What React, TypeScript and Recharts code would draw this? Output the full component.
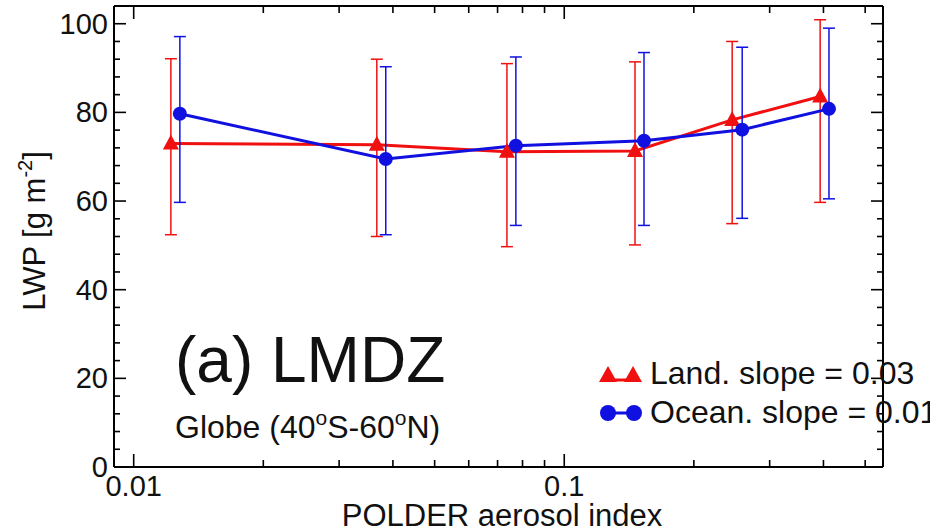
import { ComposedChart, Line, XAxis, YAxis, ErrorBar, Legend } from 'recharts';

// values (log x axis)
const landX = [0.0122, 0.0367, 0.0736, 0.146, 0.2455, 0.393];
const landY = [73, 72.7, 71.1, 71.3, 78.3, 83.6];
const landLo = [52.4, 52.0, 49.7, 50.1, 54.9, 59.7];
const landHi = [92.1, 92.0, 91.0, 91.4, 96.0, 100.9];

const oceanX = [0.0128, 0.0385, 0.0772, 0.1532, 0.259, 0.412];
const oceanY = [79.7, 69.5, 72.5, 73.6, 76.1, 80.8];
const oceanLo = [59.7, 52.4, 54.5, 54.5, 56.1, 60.5];
const oceanHi = [97.1, 90.3, 92.5, 93.5, 94.7, 99.0];

const xTicks = [0.01, 0.02, 0.03, 0.04, 0.05, 0.06, 0.07, 0.08, 0.09, 0.1, 0.2, 0.3, 0.4, 0.5];
const xLabels = [0.01, 0.1];
const yTicks = [0, 4, 8, 12, 16, 20, 24, 28, 32, 36, 40, 44, 48, 52, 56, 60, 64, 68, 72, 76, 80, 84, 88, 92, 96, 100];
const yLabels = [0, 20, 40, 60, 80, 100];

const RED = '#f01010';
const BLUE = '#1010e0';
const FONT = '"Liberation Sans", Arial, Helvetica, sans-serif';

const landData = landX.map((x, i) => ({ x, y: landY[i], err: [landY[i] - landLo[i], landHi[i] - landY[i]] }));
const oceanData = oceanX.map((x, i) => ({ x, y: oceanY[i], err: [oceanY[i] - oceanLo[i], oceanHi[i] - oceanY[i]] }));

const BottomTick = (p: any) => {
  const v = p.payload.value;
  const major = xLabels.includes(v);
  return (
    <g>
      <line x1={p.x} x2={p.x} y1={p.y} y2={p.y - (major ? 13 : 7)} stroke="#000" strokeWidth={1.6} />
      {major && (
        <text x={p.x} y={p.y + 29} textAnchor="middle" fontSize={29} fontFamily={FONT} fill="#111">{v}</text>
      )}
    </g>
  );
};

const TopTick = (p: any) => {
  const major = xLabels.includes(p.payload.value);
  return <line x1={p.x} x2={p.x} y1={p.y} y2={p.y + (major ? 13 : 7)} stroke="#000" strokeWidth={1.6} />;
};

const LeftTick = (p: any) => {
  const v = p.payload.value;
  const major = yLabels.includes(v);
  return (
    <g>
      <line x1={p.x} x2={p.x + (major ? 12 : 6)} y1={p.y} y2={p.y} stroke="#000" strokeWidth={1.6} />
      {major && (
        <text x={p.x - 6} y={p.y} dy={10} textAnchor="end" fontSize={29} fontFamily={FONT} fill="#111">{v}</text>
      )}
    </g>
  );
};

const RightTick = (p: any) => {
  const major = yLabels.includes(p.payload.value);
  return <line x1={p.x} x2={p.x - (major ? 12 : 6)} y1={p.y} y2={p.y} stroke="#000" strokeWidth={1.6} />;
};

const Tri = (p: any) => {
  const { cx, cy } = p;
  return <polygon points={`${cx},${cy - 9} ${cx - 8},${cy + 6} ${cx + 8},${cy + 6}`} fill={RED} />;
};

const Dot = (p: any) => <circle cx={p.cx} cy={p.cy} r={7} fill={BLUE} />;

const LegendBox = () => (
  <div style={{ fontFamily: FONT, fontSize: 32, color: '#111', lineHeight: '39px', whiteSpace: 'nowrap' }}>
    <div style={{ display: 'flex', alignItems: 'center', height: 39 }}>
      <svg width={50} height={39}>
        <line x1={10} x2={35} y1={26} y2={26} stroke={RED} strokeWidth={3} />
        <polygon points="10,12 1,28 19,28" fill={RED} />
        <polygon points="35,12 26,28 44,28" fill={RED} />
      </svg>
      <span style={{ marginLeft: 2 }}>Land. slope = 0.03</span>
    </div>
    <div style={{ display: 'flex', alignItems: 'center', height: 39 }}>
      <svg width={50} height={39}>
        <line x1={10} x2={36} y1={20} y2={20} stroke={BLUE} strokeWidth={3} />
        <circle cx={10} cy={20} r={8} fill={BLUE} />
        <circle cx={36} cy={20} r={8} fill={BLUE} />
      </svg>
      <span style={{ marginLeft: 2 }}>Ocean. slope = 0.01</span>
    </div>
  </div>
);

const axisStyle = { stroke: '#000', strokeWidth: 2 };

export default function App() {
  return (
    <div style={{ position: 'absolute', left: 0, top: 0, width: 930, height: 532, overflow: 'hidden', background: '#fff' }}>
      <ComposedChart width={930} height={532} margin={{ top: 5, right: 46, bottom: 64, left: 113 }}>
        <XAxis
          dataKey="x"
          type="number"
          scale="log"
          domain={[0.009, 0.55]}
          allowDataOverflow
          ticks={xTicks}
          interval={0}
          height={1}
          tickSize={0}
          tickMargin={0}
          tickLine={false}
          axisLine={axisStyle}
          tick={<BottomTick />}
        />
        <XAxis
          xAxisId="top"
          orientation="top"
          dataKey="x"
          type="number"
          scale="log"
          domain={[0.009, 0.55]}
          allowDataOverflow
          ticks={xTicks}
          interval={0}
          height={1}
          tickSize={0}
          tickMargin={0}
          tickLine={false}
          axisLine={axisStyle}
          tick={<TopTick />}
        />
        <YAxis
          type="number"
          domain={[0, 104]}
          allowDataOverflow
          ticks={yTicks}
          interval={0}
          width={1}
          tickSize={0}
          tickMargin={0}
          tickLine={false}
          axisLine={axisStyle}
          tick={<LeftTick />}
        />
        <YAxis
          yAxisId="right"
          orientation="right"
          type="number"
          domain={[0, 104]}
          allowDataOverflow
          ticks={yTicks}
          interval={0}
          width={1}
          tickSize={0}
          tickMargin={0}
          tickLine={false}
          axisLine={axisStyle}
          tick={<RightTick />}
        />
        <Line
          data={landData}
          dataKey="y"
          name="Land"
          stroke={RED}
          strokeWidth={3}
          dot={<Tri />}
          activeDot={false}
          isAnimationActive={false}
        >
          <ErrorBar dataKey="err" direction="y" width={6} stroke={RED} strokeWidth={1.5} isAnimationActive={false} />
        </Line>
        <Line
          data={oceanData}
          dataKey="y"
          name="Ocean"
          stroke={BLUE}
          strokeWidth={3}
          dot={<Dot />}
          activeDot={false}
          isAnimationActive={false}
        >
          <ErrorBar dataKey="err" direction="y" width={6} stroke={BLUE} strokeWidth={1.5} isAnimationActive={false} />
        </Line>
        <Legend
          layout="horizontal"
          verticalAlign="middle"
          align="center"
          content={() => <LegendBox />}
          wrapperStyle={{ position: 'absolute', left: 598, top: 354, width: 420 }}
        />
      </ComposedChart>
      <svg width={930} height={532} style={{ position: 'absolute', left: 0, top: 0, pointerEvents: 'none' }} fontFamily={FONT} fill="#111">
        <text x={175} y={382} fontSize={64}>(a) LMDZ</text>
        <text x={175} y={438} fontSize={32}>
          Globe (40<tspan dy={-13} fontSize={21}>o</tspan><tspan dy={13}>S-60</tspan>
          <tspan dy={-13} fontSize={21}>o</tspan><tspan dy={13}>N)</tspan>
        </text>
        <text x={502} y={526} fontSize={31} textAnchor="middle">POLDER aerosol index</text>
        <text x={45} y={231} fontSize={31} textAnchor="middle" transform="rotate(-90 45 231)">
          LWP [g m<tspan dy={-13} fontSize={20}>-2</tspan><tspan dy={13}>]</tspan>
        </text>
      </svg>
    </div>
  );
}
